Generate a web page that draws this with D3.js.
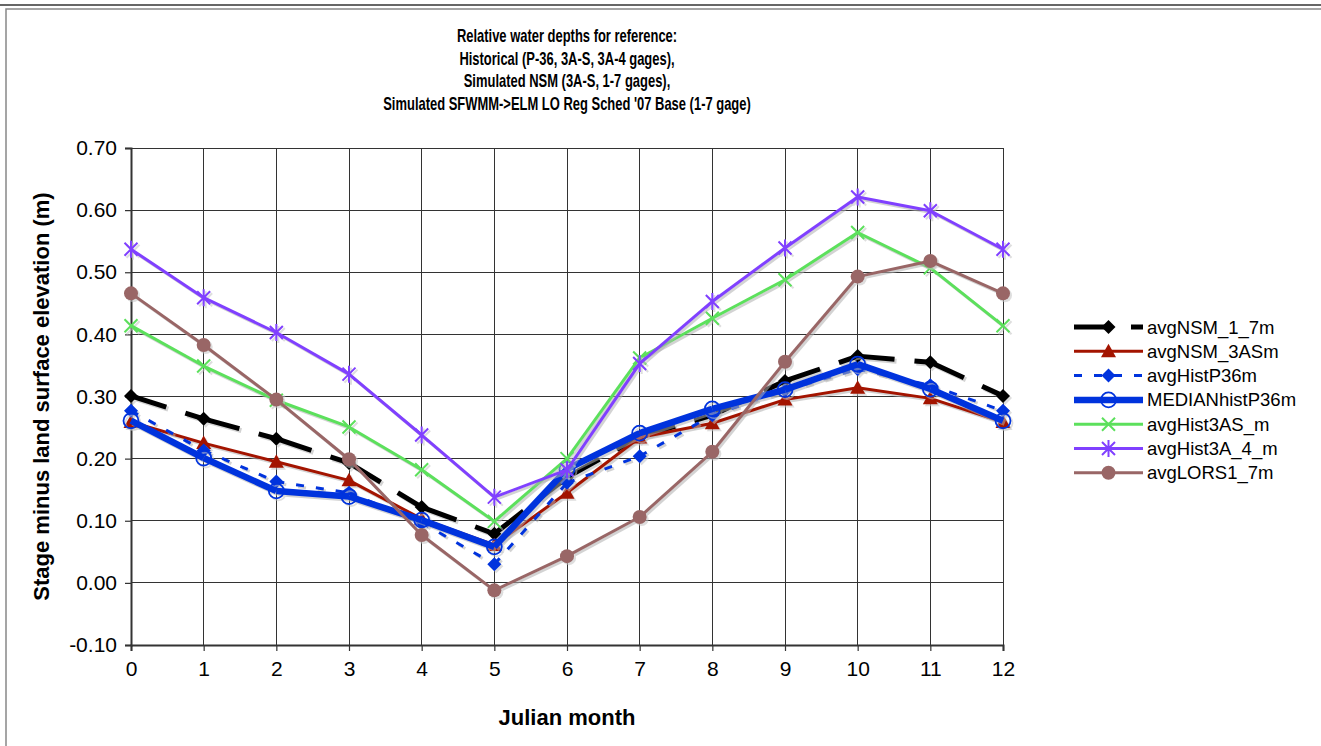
<!DOCTYPE html>
<html><head><meta charset="utf-8">
<script src="https://cdn.jsdelivr.net/npm/d3@7"></script>
<style>html,body{margin:0;padding:0;background:#fff;}svg{display:block;}text{font-family:"Liberation Sans",Arial,sans-serif;}</style>
</head><body>
<svg id="c" width="1321" height="746"></svg>
<script>
const months = [0,1,2,3,4,5,6,7,8,9,10,11,12];
const yTicks = [-0.1,0,0.1,0.2,0.3,0.4,0.5,0.6,0.7];
const titleLines = ["Relative water depths for reference:","Historical (P-36, 3A-S, 3A-4 gages),","Simulated NSM (3A-S, 1-7 gages),","Simulated SFWMM->ELM LO Reg Sched '07 Base (1-7 gage)"];
const seriesNames = ["avgNSM_1_7m","avgNSM_3ASm","avgHistP36m","MEDIANhistP36m","avgHist3AS_m","avgHist3A_4_m","avgLORS1_7m"];
const avgNSM_1_7m   = [0.301,0.264,0.232,0.193,0.122,0.079,0.170,0.235,0.270,0.325,0.365,0.355,0.301];
const avgNSM_3ASm   = [0.259,0.225,0.195,0.165,0.103,0.061,0.145,0.234,0.257,0.295,0.314,0.297,0.259];
const avgHistP36m   = [0.277,0.213,0.163,0.145,0.097,0.030,0.161,0.204,0.270,0.310,0.344,0.318,0.277];
const MEDIANhistP36m= [0.261,0.201,0.148,0.139,0.101,0.058,0.183,0.241,0.280,0.311,0.352,0.312,0.261];
const avgHist3AS_m  = [0.414,0.349,0.294,0.251,0.182,0.099,0.200,0.362,0.426,0.488,0.564,0.507,0.414];
const avgHist3A_4_m = [0.537,0.459,0.403,0.336,0.238,0.138,0.182,0.353,0.453,0.539,0.621,0.599,0.537];
const avgLORS1_7m   = [0.466,0.383,0.295,0.199,0.077,-0.012,0.043,0.106,0.211,0.356,0.493,0.518,0.466];

const styles = [
 {color:"#000000", w:5, dash:"37,20", marker:"diamond"},
 {color:"#A31400", w:3, dash:null, marker:"triangle"},
 {color:"#0033DD", w:3, dash:"8,12", marker:"diamond"},
 {color:"#0033DD", w:6.5, dash:null, marker:"ocircle"},
 {color:"#5CE05C", w:3, dash:null, marker:"x"},
 {color:"#8040FF", w:3, dash:null, marker:"star"},
 {color:"#996666", w:3, dash:null, marker:"circle"}
];
const data = [avgNSM_1_7m,avgNSM_3ASm,avgHistP36m,MEDIANhistP36m,avgHist3AS_m,avgHist3A_4_m,avgLORS1_7m];

const svg = d3.select("#c");
// outer frame
svg.append("line").attr("x1",0).attr("x2",1321).attr("y1",5).attr("y2",5).attr("stroke","#333").attr("stroke-width",1.5);
svg.append("rect").attr("x",6).attr("y",9).attr("width",1330).attr("height",760).attr("fill","none").attr("stroke","#888").attr("stroke-width",1.5);

const x = d3.scaleLinear().domain([0,12]).range([131,1003]);
const y = d3.scaleLinear().domain([-0.1,0.7]).range([645,148]);

// grid
const g = svg.append("g");
g.selectAll(".vg").data(months).enter().append("line")
 .attr("x1",d=>x(d)).attr("x2",d=>x(d)).attr("y1",y(0.7)).attr("y2",y(-0.1))
 .attr("stroke","#333").attr("stroke-width",1).attr("shape-rendering","crispEdges");
g.selectAll(".hg").data(yTicks).enter().append("line")
 .attr("x1",x(0)).attr("x2",x(12)).attr("y1",d=>y(d)).attr("y2",d=>y(d))
 .attr("stroke","#333").attr("stroke-width",1).attr("shape-rendering","crispEdges");

// axes
const fmt = d=>d3.format(".2f")(d).replace("\u2212","-");
const yAxis = d3.axisLeft(y).tickValues(yTicks).tickFormat(fmt).tickSize(6).tickPadding(8);
const ya = svg.append("g").attr("transform",`translate(${x(0)},0)`).call(yAxis);
const xAxis = d3.axisBottom(x).tickValues(months).tickFormat(d3.format("d")).tickSize(6).tickPadding(10);
const xa = svg.append("g").attr("transform",`translate(0,${y(-0.1)})`).call(xAxis);
[ya,xa].forEach(a=>{
  a.select(".domain").attr("stroke","#333").attr("stroke-width",2);
  a.selectAll(".tick line").attr("stroke","#333").attr("stroke-width",1.2);
  a.selectAll(".tick text").attr("font-size",21).attr("fill","#000").style("font-family","'Liberation Sans',Arial,sans-serif");
});

// titles (condensed bold)
const cx0 = (x(0)+x(12))/2;
const tt = svg.append("g").attr("transform",`translate(${cx0},0) scale(0.72,1)`);
titleLines.forEach((t,i)=>tt.append("text").attr("x",0).attr("y",42+i*22.7).attr("text-anchor","middle").attr("font-weight","bold").attr("font-size",18).text(t));
svg.append("text").attr("x",cx0).attr("y",725).attr("text-anchor","middle").attr("font-weight","bold").attr("font-size",22).text("Julian month");
svg.append("text").attr("transform",`translate(49,${(y(0.7)+y(-0.1))/2}) rotate(-90)`).attr("text-anchor","middle").attr("font-weight","bold").attr("font-size",22).text("Stage minus land surface elevation (m)");

function drawMarker(sel, type, color, cx, cy, shadow){
  const c = shadow ? "#c4c4c4" : color;
  const m = sel.append("g").attr("transform",`translate(${cx},${cy})`);
  if(type==="diamond") m.append("path").attr("d","M0,-7L7,0L0,7L-7,0Z").attr("fill",c);
  else if(type==="triangle") m.append("path").attr("d","M0,-7.5L7.5,6L-7.5,6Z").attr("fill",c);
  else if(type==="circle") m.append("circle").attr("r",7).attr("fill",c);
  else if(type==="ocircle") m.append("circle").attr("r",7.5).attr("fill","none").attr("stroke",c).attr("stroke-width",1.8);
  else if(type==="x") m.append("path").attr("d","M-6.5,-6.5L6.5,6.5M-6.5,6.5L6.5,-6.5").attr("stroke",c).attr("stroke-width",2);
  else if(type==="star") m.append("path").attr("d","M-6.5,-6.5L6.5,6.5M-6.5,6.5L6.5,-6.5M0,-8.5L0,8.5").attr("stroke",c).attr("stroke-width",2);
}

const plot = svg.append("g");
data.forEach((vals,si)=>{
  const st = styles[si];
  [true,false].forEach(shadow=>{
    const grp = plot.append("g");
    if(shadow) grp.attr("transform","translate(2,2)").attr("opacity",0.55);
    const col = shadow ? "#b0b0b0" : st.color;
    for(let i=0;i<vals.length-1;i++){
      grp.append("line").attr("x1",x(months[i])).attr("y1",y(vals[i])).attr("x2",x(months[i+1])).attr("y2",y(vals[i+1]))
        .attr("stroke",col).attr("stroke-width",st.w).attr("stroke-dasharray",st.dash).attr("stroke-linecap","butt");
    }
    vals.forEach((v,i)=>drawMarker(grp, st.marker, st.color, x(months[i]), y(v), shadow));
  });
});

// legend
const lg = svg.append("g");
seriesNames.forEach((n,i)=>{
  const st = styles[i];
  const cy = 327 + i*24.3;
  lg.append("line").attr("x1",1074).attr("x2",1143).attr("y1",cy).attr("y2",cy).attr("stroke",st.color).attr("stroke-width",st.w).attr("stroke-dasharray",st.dash);
  drawMarker(lg, st.marker, st.color, 1108.5, cy, false);
  lg.append("text").attr("x",1147).attr("y",cy+6.5).attr("font-size",18.5).text(n);
});
</script>
</body></html>
